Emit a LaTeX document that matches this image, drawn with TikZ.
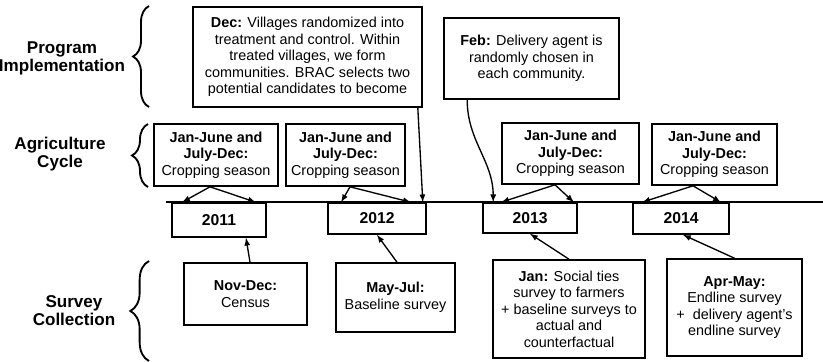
\documentclass[tikz,border=0pt]{standalone}
\usepackage{fontspec}
\setmainfont{Liberation Sans}
\usetikzlibrary{calc,decorations.pathreplacing}

\newcommand{\cropping}{\textbf{Jan-June and}\\\textbf{July-Dec:}\\Cropping season}

\begin{document}
\begin{tikzpicture}[x=0.75pt, y=-0.75pt, >=latex]
\useasboundingbox (0,0) rectangle (823,361);

% Etiquetas
\begin{scope}[
		every node/.style = {align = center,
		font = \fontsize{12.8}{13.6}\selectfont\bfseries}]
	\node (PI) at (62,58) {Program\\Implementation};
	\node (AC) at (60,154) {Agriculture\\Cycle};
	\node (SC) at (74,311) {Survey\\Collection};
\end{scope}

% Llaves
\begin{scope}[line width = 1.4pt]
	\draw[decorate, decoration = {brace, amplitude = 12pt}] (149,107) -- (149,6);
	\draw[decorate, decoration = {brace, amplitude = 12pt}] (148,187) -- (148,124);
	\draw[decorate, decoration = {brace, amplitude = 14pt}] (149,361) -- (149,261);
\end{scope}

% Linea de tiempo
\coordinate (T0) at (166,202);
\coordinate (T1) at (823,202);
\draw[line width = 1.1pt] (T0) -- (T1);

% Cajas
\begin{scope}[
		every node/.style = {draw = black, fill = white, line width = 1.2pt,
		align = center, inner sep = 2pt,
		font = \fontsize{10.8}{12.4}\selectfont}]
	% programa
	\node[minimum width = 171.75pt, minimum height = 75pt] (Dec) at (307.5,57)
		{\textbf{Dec:} Villages randomized into\\treatment and control. Within\\treated villages, we form\\communities. BRAC selects two\\potential candidates to become};
	\node[minimum width = 131.25pt, minimum height = 60.75pt] (Feb) at (531.5,58.5)
		{\textbf{Feb:} Delivery agent is\\randomly chosen in\\each community.};
	% cultivo
	\node[minimum width = 93pt, minimum height = 46.5pt] (C1) at (216,155) {\cropping};
	\node[minimum width = 89.25pt, minimum height = 46.5pt] (C2) at (345.5,155) {\cropping};
	\node[minimum width = 102.75pt, minimum height = 45.75pt] (C3) at (570.5,153.5) {\cropping};
	\node[minimum width = 93.75pt, minimum height = 45.75pt] (C4) at (714.5,154.5) {\cropping};
	% encuestas
	\node[minimum width = 92.25pt, minimum height = 46.5pt] (Nov) at (245.5,294)
		{\textbf{Nov-Dec:}\\Census};
	\node[minimum width = 89.25pt, minimum height = 51.75pt] (May) at (395.5,297.5)
		{\textbf{May-Jul:}\\Baseline survey};
	\node[minimum width = 114pt, minimum height = 73.5pt] (Jan) at (569,309)
		{\textbf{Jan:} Social ties\\survey to farmers\\+ baseline surveys to\\actual and\\counterfactual};
	\node[minimum width = 101.25pt, minimum height = 72.75pt] (Apr) at (734.5,307.5)
		{\textbf{Apr-May:}\\Endline survey\\+~ delivery agent's\\endline survey};
\end{scope}

% Años
\begin{scope}[
		every node/.style = {draw = black, fill = white, line width = 1.2pt,
		font = \fontsize{11.8}{13}\selectfont\bfseries}]
	\node[minimum width = 70.5pt, minimum height = 25.5pt] (Y1) at (219,220) {2011};
	\node[minimum width = 73.5pt, minimum height = 23.25pt] (Y2) at (377,218.5) {2012};
	\node[minimum width = 70.5pt, minimum height = 22.5pt] (Y3) at (530,218) {2013};
	\node[minimum width = 72pt, minimum height = 23.25pt] (Y4) at (681,218.5) {2014};
\end{scope}

% Flechas
\begin{scope}[
		every edge/.style = {draw = black, ->, line width = 1pt}]
	\path ($(C1.south)+(-6,0)$) edge ($(Y1.north west)+(11,0)$);
	\path ($(C1.south)+(-6,0)$) edge ($(Y1.north east)+(-11,0)$);
	\path ($(C2.south)+(4.5,0)$) edge ($(Y2.north west)+(14,0)$);
	\path ($(C2.south)+(4.5,0)$) edge ($(Y2.north east)+(-16,0)$);
	\path ($(C3.south)+(-15.5,0)$) edge ($(Y3.north west)+(19,0)$);
	\path ($(C3.south)+(-15.5,0)$) edge ($(Y3.north east)+(-4,0)$);
	\path ($(C4.south)+(-21.5,0)$) edge ($(Y4.north west)+(10,0)$);
	\path ($(C4.south)+(-21.5,0)$) edge ($(Y4.north east)+(-9,0)$);
	\path ($(Dec.south east)+(-5,0)$) edge ($(Y2.north east)+(-4,0)$);
	\path ($(Feb.south west)+(24,0)$) edge[out = -90, in = 90] ($(Y3.north west)+(11,0)$);
	\path ($(Nov.north)+(4.5,0)$) edge ($(Y1.south)+(27,0)$);
	\path ($(May.north)+(1.5,0)$) edge (Y2.south);
	\path (Jan.north) edge (Y3.south);
	\path (Apr.north) edge ($(Y4.south)+(2,0)$);
\end{scope}
\end{tikzpicture}
\end{document}
